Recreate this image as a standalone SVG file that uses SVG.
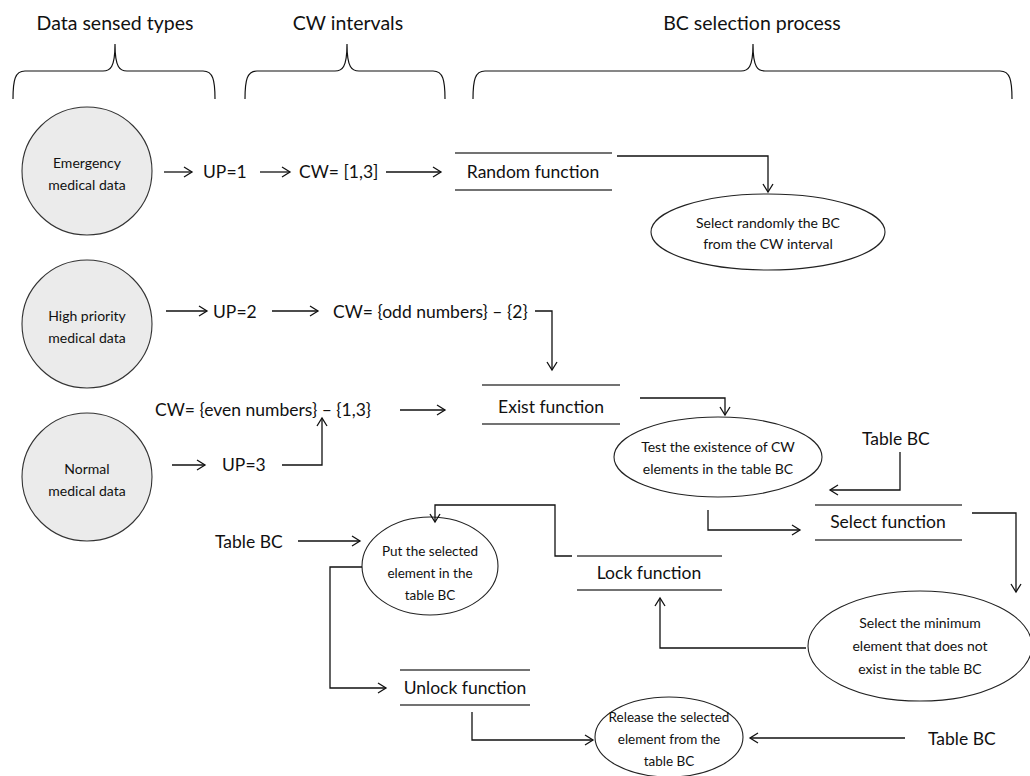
<svg xmlns="http://www.w3.org/2000/svg" width="1030" height="776" viewBox="0 0 1030 776">
  <style>
    text { font-family: Lato, "Liberation Sans", sans-serif; fill: #111; }
    .hdr { font-size: 19.5px; text-anchor: middle; }
    .lbl { font-size: 17.5px; }
    .mid { text-anchor: middle; }
    .small { font-size: 14px; text-anchor: middle; }
    .tight { font-size: 13.5px; }
    .brace { fill: none; stroke: #111; stroke-width: 1.2; }
    .bar { stroke: #444; stroke-width: 1.3; }
    .node { fill: #ebebeb; stroke: #333; stroke-width: 1.1; }
    .oval { fill: #fff; stroke: #222; stroke-width: 1.1; }
    .conn path { fill: none; stroke: #111; stroke-width: 1.3; marker-end: url(#arrow); }
  </style>
  <defs>
    <marker id="arrow" markerUnits="userSpaceOnUse" markerWidth="14" markerHeight="14" viewBox="0 0 14 14" refX="12" refY="7" orient="auto">
      <path d="M4,2 L12,7 L4,12" fill="none" stroke="#111" stroke-width="1.3"/>
    </marker>
  </defs>
  <rect width="1030" height="776" fill="#fff"/>

  <!-- column headers with curly braces -->
  <g id="headers">
    <text class="hdr" x="115" y="30">Data sensed types</text>
    <text class="hdr" x="348" y="30">CW intervals</text>
    <text class="hdr" x="752" y="30">BC selection process</text>
    <path class="brace" d="M13,99 C13,80 15,71 25,71 L103,71 C110,71 115,68 115,44 C115,68 120,71 127,71 L203,71 C213,71 215,80 215,99"/>
    <path class="brace" d="M245,99 C245,80 247,71 257,71 L335,71 C342,71 347,68 347,44 C347,68 352,71 359,71 L433,71 C443,71 445,80 445,99"/>
    <path class="brace" d="M473,99 C473,80 475,71 485,71 L741,71 C748,71 753,68 753,44 C753,68 758,71 765,71 L1000,71 C1010,71 1012,80 1012,99"/>
  </g>

  <!-- data type nodes -->
  <g id="emergency">
    <ellipse class="node" cx="87" cy="171" rx="65" ry="64"/>
    <text class="small" x="87" y="168">Emergency</text>
    <text class="small" x="87" y="190">medical data</text>
  </g>
  <g id="high">
    <ellipse class="node" cx="87" cy="324" rx="65" ry="64"/>
    <text class="small" x="87" y="321">High priority</text>
    <text class="small" x="87" y="343">medical data</text>
  </g>
  <g id="normal">
    <ellipse class="node" cx="87" cy="477" rx="65" ry="64"/>
    <text class="small" x="87" y="474">Normal</text>
    <text class="small" x="87" y="496">medical data</text>
  </g>

  <!-- priority and CW labels -->
  <g id="up1"><text class="lbl" x="203" y="178">UP=1</text></g>
  <g id="cw1"><text class="lbl" x="299" y="178">CW= [1,3]</text></g>
  <g id="up2"><text class="lbl" x="213" y="318">UP=2</text></g>
  <g id="cw2"><text class="lbl" x="333" y="318">CW= {odd numbers} – {2}</text></g>
  <g id="cw3"><text class="lbl" x="155" y="416">CW= {even numbers} – {1,3}</text></g>
  <g id="up3"><text class="lbl" x="222" y="471">UP=3</text></g>

  <!-- function stores -->
  <g id="random-fn">
    <line class="bar" x1="455" y1="153" x2="612" y2="153"/>
    <line class="bar" x1="455" y1="190" x2="612" y2="190"/>
    <text class="lbl mid" x="533" y="178">Random function</text>
  </g>
  <g id="exist-fn">
    <line class="bar" x1="482" y1="385" x2="620" y2="385"/>
    <line class="bar" x1="482" y1="424" x2="620" y2="424"/>
    <text class="lbl mid" x="551" y="413">Exist function</text>
  </g>
  <g id="select-fn">
    <line class="bar" x1="815" y1="505" x2="962" y2="505"/>
    <line class="bar" x1="815" y1="540" x2="962" y2="540"/>
    <text class="lbl mid" x="888" y="528">Select function</text>
  </g>
  <g id="lock-fn">
    <line class="bar" x1="577" y1="556" x2="722" y2="556"/>
    <line class="bar" x1="577" y1="590" x2="722" y2="590"/>
    <text class="lbl mid" x="649" y="579">Lock function</text>
  </g>
  <g id="unlock-fn">
    <line class="bar" x1="400" y1="670" x2="530" y2="670"/>
    <line class="bar" x1="400" y1="705" x2="530" y2="705"/>
    <text class="lbl mid" x="465" y="694">Unlock function</text>
  </g>

  <!-- process steps -->
  <g id="select-random">
    <ellipse class="oval" cx="768" cy="232" rx="117" ry="38"/>
    <text class="small" x="768" y="228">Select randomly the  BC</text>
    <text class="small" x="768" y="249">from the CW interval</text>
  </g>
  <g id="test-existence">
    <ellipse class="oval" cx="718" cy="457" rx="104" ry="40"/>
    <text class="small" x="718" y="452">Test the existence of CW</text>
    <text class="small" x="718" y="474">elements in the table BC</text>
  </g>
  <g id="put-element">
    <ellipse class="oval" cx="430" cy="566" rx="68" ry="49"/>
    <text class="small tight" x="430" y="556">Put the selected</text>
    <text class="small tight" x="430" y="578">element in the</text>
    <text class="small tight" x="430" y="600">table BC</text>
  </g>
  <g id="select-minimum">
    <ellipse class="oval" cx="920" cy="646" rx="112" ry="55"/>
    <text class="small" x="920" y="628">Select the minimum</text>
    <text class="small" x="920" y="651">element that does not</text>
    <text class="small" x="920" y="674">exist in the table BC</text>
  </g>
  <g id="release-element">
    <ellipse class="oval" cx="669" cy="737" rx="74" ry="40"/>
    <text class="small tight" x="669" y="722">Release the selected</text>
    <text class="small tight" x="669" y="744">element from the</text>
    <text class="small tight" x="669" y="766">table BC</text>
  </g>

  <!-- table BC inputs -->
  <g id="table-bc-1"><text class="lbl" x="862" y="445">Table BC</text></g>
  <g id="table-bc-2"><text class="lbl" x="215" y="548">Table BC</text></g>
  <g id="table-bc-3"><text class="lbl" x="928" y="745">Table BC</text></g>

  <!-- connectors -->
  <g id="connectors" class="conn">
    <path d="M164,172 H192"/>
    <path d="M260,172 H290"/>
    <path d="M386,172 H441"/>
    <path d="M617,156 H768 V192"/>
    <path d="M166,311 H207"/>
    <path d="M272,311 H318"/>
    <path d="M535,311 H552 V370"/>
    <path d="M400,410 H445"/>
    <path d="M640,398 H725 V415"/>
    <path d="M172,465 H205"/>
    <path d="M282,465 H322 V418"/>
    <path d="M900,452 V490 H830"/>
    <path d="M708,510 V530 H800"/>
    <path d="M972,513 H1016 V592"/>
    <path d="M806,648 H660 V598"/>
    <path d="M572,556 H555 V505 H435 V522"/>
    <path d="M298,541 H360"/>
    <path d="M362,567 H330 V688 H386"/>
    <path d="M472,712 V740 H593"/>
    <path d="M905,738 H750"/>
  </g>
</svg>
